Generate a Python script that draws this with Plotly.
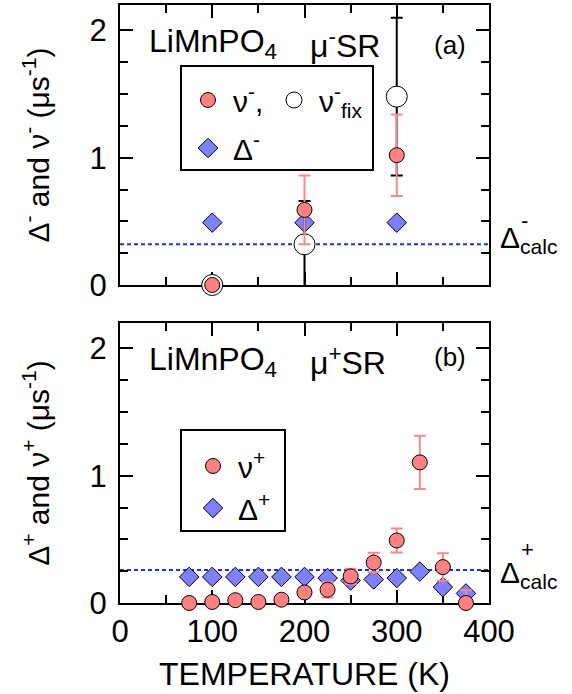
import plotly.graph_objects as go

# ---------------- data ----------------
# panel (a): mu- SR
T_minus = [100, 200, 300]
nu_minus = [0.0, 0.59, 1.02]
nu_minus_err = [None, 0.27, 0.32]
nu_fix = [0.0, 0.32, 1.48]
nu_fix_err = [None, 0.34, 0.62]
delta_minus = [0.49, 0.49, 0.49]
delta_calc_minus = 0.32

# panel (b): mu+ SR
T_plus = [75, 100, 125, 150, 175, 200, 225, 250, 275, 300, 325, 350, 375]
nu_plus = [0.0, 0.008, 0.022, 0.008, 0.026, 0.083, 0.104, 0.209, 0.318, 0.491, 1.105, 0.282, 0.0]
nu_plus_err = [None, None, None, None, None, 0.03, 0.06, 0.06, 0.077, 0.095, 0.21, 0.108, 0.1]
delta_plus = [0.205, 0.205, 0.205, 0.205, 0.205, 0.205, 0.196, 0.177, 0.185, 0.196, 0.247, 0.125, 0.075]
delta_calc_plus = 0.26

x_ticks = [0, 100, 200, 300, 400]
y_ticks = [0, 1, 2]

# ---------------- style ----------------
FONT = "Liberation Sans, Arial, Helvetica, sans-serif"
W, H = 572, 694
L, R, T, B = 120, 83, 5, 91
PW, PH = W - L - R, H - T - B
RED = "#ff8080"
ERR_RED = "#f58a8a"
BLUE = "#8080ff"


def px_x(px):
    return (px - L) / PW


def px_y(py):
    return (H - B - py) / PH


top_dom = [px_y(285), 1.0]
bot_dom = [0.0, px_y(323)]

fig = go.Figure()

# ---- panel (a) ----
fig.add_trace(go.Scatter(
    x=T_minus, y=delta_minus, mode="markers", name="Δ<sup>-</sup>",
    marker=dict(symbol="diamond", size=15, color=BLUE, line=dict(color="black", width=1)),
    xaxis="x", yaxis="y", legend="legend3", cliponaxis=False))
fig.add_trace(go.Scatter(
    x=T_minus, y=nu_fix, mode="markers", name="ν<sup>-</sup><sub>fix</sub>",
    marker=dict(symbol="circle", size=21, color="white", line=dict(color="black", width=1)),
    error_y=dict(type="data", array=nu_fix_err, color="black", thickness=2, width=6),
    xaxis="x", yaxis="y", legend="legend2", cliponaxis=False))
fig.add_trace(go.Scatter(
    x=T_minus, y=nu_minus, mode="markers", name="ν<sup>-</sup>,",
    marker=dict(symbol="circle", size=15, color=RED, line=dict(color="black", width=1)),
    error_y=dict(type="data", array=nu_minus_err, color=ERR_RED, thickness=2, width=6),
    xaxis="x", yaxis="y", legend="legend", cliponaxis=False))

# ---- panel (b) ----
fig.add_trace(go.Scatter(
    x=T_plus, y=delta_plus, mode="markers", name="Δ<sup>+</sup>",
    marker=dict(symbol="diamond", size=15, color=BLUE, line=dict(color="black", width=1)),
    xaxis="x2", yaxis="y2", legend="legend4", legendrank=2, cliponaxis=False))
fig.add_trace(go.Scatter(
    x=T_plus, y=nu_plus, mode="markers", name="ν<sup>+</sup>",
    marker=dict(symbol="circle", size=15, color=RED, line=dict(color="black", width=1)),
    error_y=dict(type="data", array=nu_plus_err, color=ERR_RED, thickness=2, width=6),
    xaxis="x2", yaxis="y2", legend="legend4", legendrank=1, cliponaxis=False))

tickfont = dict(family=FONT, size=31, color="black")
common = dict(showline=True, linecolor="black", linewidth=2, mirror="ticks",
              ticks="inside", ticklen=13, tickwidth=2, tickcolor="black",
              showgrid=False, zeroline=False, layer="below traces",
              tickfont=tickfont)
xcommon = dict(common, range=[0, 400], tickmode="array", tickvals=x_ticks,
               minor=dict(ticks="inside", ticklen=8, tickwidth=2, tickcolor="black",
                          dtick=50, tick0=0, showgrid=False))
ycommon = dict(common, range=[0, 2.2], tickmode="array", tickvals=y_ticks,
               ticklabelstandoff=5,
               minor=dict(ticks="inside", ticklen=8, tickwidth=2, tickcolor="black",
                          dtick=0.25, tick0=0, showgrid=False))

fig.update_layout(
    width=W, height=H,
    margin=dict(l=L, r=R, t=T, b=B, autoexpand=False),
    paper_bgcolor="white", plot_bgcolor="white",
    font=dict(family=FONT, size=30, color="black"),
    xaxis=dict(xcommon, anchor="y", showticklabels=False),
    yaxis=dict(ycommon, anchor="x", domain=top_dom,
               title=dict(text="Δ<sup>-</sup> and ν<sup>-</sup> (μs<sup>-1</sup>)",
                          font=dict(family=FONT, size=30), standoff=31)),
    xaxis2=dict(xcommon, anchor="y2", ticklabelstandoff=0,
                title=dict(text="TEMPERATURE (K)", font=dict(family=FONT, size=32), standoff=14)),
    yaxis2=dict(ycommon, anchor="x2", domain=bot_dom,
                title=dict(text="Δ<sup>+</sup> and ν<sup>+</sup> (μs<sup>-1</sup>)",
                           font=dict(family=FONT, size=30), standoff=31)),
    showlegend=True,
)

leg_common = dict(bgcolor="rgba(0,0,0,0)", borderwidth=0, font=dict(family=FONT, size=30),
                  xanchor="left", yanchor="middle", itemwidth=40, orientation="v")
fig.update_layout(
    legend=dict(leg_common, x=px_x(183), y=px_y(100)),
    legend2=dict(leg_common, x=px_x(269), y=px_y(100)),
    legend3=dict(leg_common, x=px_x(183), y=px_y(148)),
    legend4=dict(leg_common, x=px_x(188), y=px_y(487)),
)

# legend frames
fig.add_shape(type="rect", xref="paper", yref="paper",
              x0=px_x(181), x1=px_x(373), y0=px_y(170), y1=px_y(66),
              line=dict(color="black", width=2), fillcolor="rgba(0,0,0,0)")
fig.add_shape(type="rect", xref="paper", yref="paper",
              x0=px_x(181), x1=px_x(285), y0=px_y(531), y1=px_y(430),
              line=dict(color="black", width=2), fillcolor="rgba(0,0,0,0)")

# calculated Delta lines
fig.add_shape(type="line", xref="x domain", yref="y", x0=0, x1=1,
              y0=delta_calc_minus, y1=delta_calc_minus, layer="below",
              line=dict(color="#1a2cff", width=2, dash="4px,3px"))
fig.add_shape(type="line", xref="x2 domain", yref="y2", x0=0, x1=1,
              y0=delta_calc_plus, y1=delta_calc_plus, layer="below",
              line=dict(color="#1a2cff", width=2, dash="4px,3px"))


def note(text, x, y, size=30, xanchor="left", yanchor="middle"):
    fig.add_annotation(text=text, x=px_x(x), y=px_y(y), xref="paper", yref="paper",
                       showarrow=False, xanchor=xanchor, yanchor=yanchor,
                       font=dict(family=FONT, size=size, color="black"))


note("LiMnPO<sub>4</sub>", 147, 44, size=32)
note("μ<sup>-</sup>SR", 308, 44, size=32)
note("(a)", 432, 45, size=26)
note("LiMnPO<sub>4</sub>", 147, 361, size=32)
note("μ<sup>+</sup>SR", 308, 361, size=32)
note("(b)", 432, 357, size=26)
note("Δ<sub>calc</sub>", 498, 240)
note("-", 519, 220, size=22)
note("Δ<sub>calc</sub>", 498, 574)
note("+", 519, 549, size=22)

fig.write_html("out.html", post_script="document.body.style.margin='0';",
               config={"displayModeBar": False})
